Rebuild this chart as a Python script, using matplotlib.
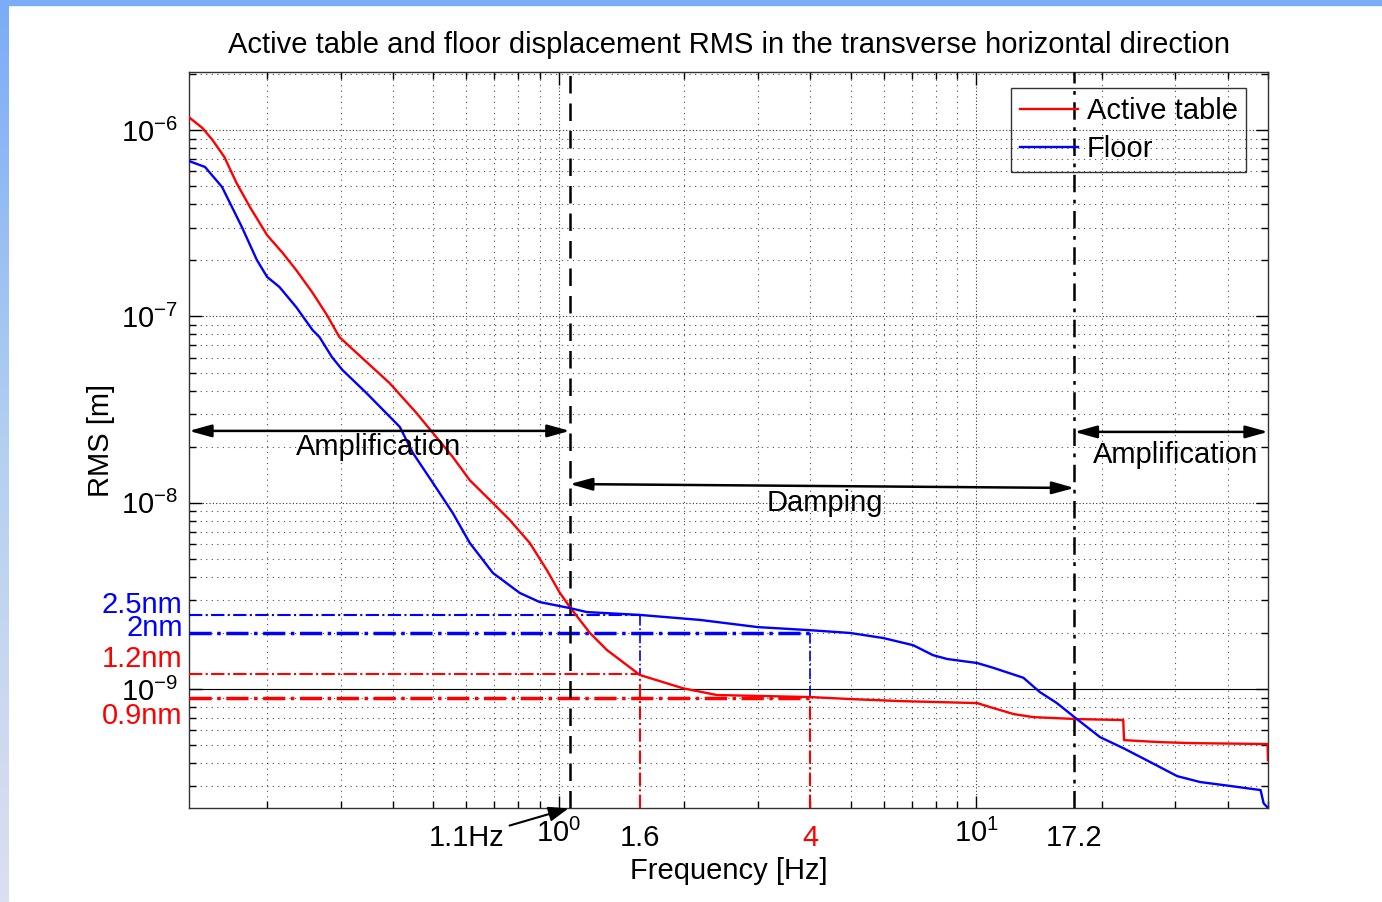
import matplotlib
matplotlib.use("Agg")
import matplotlib.pyplot as plt
import matplotlib.transforms as mtransforms
import numpy as np

plt.rcParams["font.family"] = ["Liberation Sans", "DejaVu Sans"]
plt.rcParams["mathtext.fontset"] = "custom"
plt.rcParams["mathtext.rm"] = "Liberation Sans"
plt.rcParams["mathtext.it"] = "Liberation Sans:italic"

# RMS curves (frequency in Hz, RMS in nm)
table_freq = [0.130, 0.140, 0.148, 0.158, 0.169, 0.182, 0.200, 0.218, 0.235, 0.257,
              0.278, 0.298, 0.328, 0.393, 0.456, 0.499, 0.557, 0.612, 0.695, 0.763,
              0.852, 0.936, 1.006, 1.063, 1.187, 1.304, 1.564, 1.983, 2.393, 4.0,
              4.99, 6.57, 10.05, 10.8, 12.3, 13.7, 17.5, 22.5, 22.6, 27.6,
              32.6, 49.9, 50.0]
table_rms = [1172, 1026, 885, 717, 520, 386, 273, 219, 177, 134,
             102, 77.5, 63.6, 43.9, 30.3, 23.7, 17.6, 13.2, 9.96, 8.07,
             6.08, 4.35, 3.28, 2.75, 2.0, 1.62, 1.19, 1.01, 0.929, 0.906,
             0.884, 0.862, 0.841, 0.80, 0.734, 0.707, 0.690, 0.682, 0.532, 0.519,
             0.513, 0.507, 0.416]

floor_freq = [0.130, 0.142, 0.156, 0.174, 0.189, 0.200, 0.214, 0.235, 0.257, 0.267,
              0.286, 0.303, 0.346, 0.416, 0.447, 0.499, 0.557, 0.612, 0.695, 0.806,
              0.900, 1.063, 1.167, 1.564, 2.18, 3.0, 4.0, 4.99, 5.98, 7.06,
              7.88, 8.52, 10.05, 10.99, 12.97, 14.2, 15.6, 17.3, 19.8, 22.5,
              26.1, 30.3, 34.4, 40.6, 48.0, 48.8, 50.0]
floor_rms = [682, 634, 495, 302, 201, 163, 144, 112, 84.5, 77.5,
             60.5, 51.6, 38.8, 25.5, 18.5, 12.8, 8.81, 6.08, 4.20, 3.28,
             2.93, 2.72, 2.59, 2.50, 2.35, 2.15, 2.07, 2.0, 1.88, 1.72,
             1.52, 1.45, 1.38, 1.30, 1.15, 0.964, 0.841, 0.699, 0.552, 0.482,
             0.406, 0.341, 0.317, 0.302, 0.287, 0.244, 0.23]

# band edges / marked frequencies sit on the 1/16 Hz bins, labels are rounded
band_edges = [1.0625, 17.1875]
band_labels = ["1.1Hz", "17.2"]
mark_freq = [1.5625, 4.0]
mark_labels = ["1.6", "4"]
floor_levels = [2.5, 2.0]    # nm
table_levels = [1.2, 0.9]    # nm
level_labels = ["2.5nm", "2nm", "1.2nm", "0.9nm"]

fig = plt.figure(figsize=(13.82, 9.02), dpi=100)

# slide background border (blue strips on top and left)
strip = fig.add_axes([0, 0, 9 / 1382, 1])
grad = np.linspace(0, 1, 256).reshape(-1, 1)
strip.imshow(grad, aspect="auto", extent=[0, 1, 0, 1],
             cmap=matplotlib.colors.LinearSegmentedColormap.from_list(
                 "bg", ["#dcdff0", "#b4d0f0", "#7aacf8"]), origin="lower")
strip.axis("off")
fig.patches.append(plt.Rectangle((0, 1 - 5 / 902), 1, 5 / 902, transform=fig.transFigure,
                                 color="#7aacf8", zorder=0))

ax = fig.add_axes([189 / 1382, 1 - 808 / 902, (1268 - 189) / 1382, (808 - 72) / 902])
ax.set_xscale("log")
ax.set_yscale("log")
ax.set_xlim(0.13, 50.0)
ax.set_ylim(2.3e-10, 2.05e-6)
xmin, xmax = ax.get_xlim()
ymin = ax.get_ylim()[0]

ax.plot(table_freq, np.array(table_rms) * 1e-9, color="red", lw=1.7, label="Active table", zorder=5)
ax.plot(floor_freq, np.array(floor_rms) * 1e-9, color="blue", lw=1.7, label="Floor", zorder=5)

ax.axhline(1e-9, color="black", lw=0.8, zorder=3)

# guides for the damping band
for f, lvl, lw in zip(mark_freq, floor_levels, [1.5, 2.5]):
    ax.plot([xmin, f], [lvl * 1e-9] * 2, color="blue", ls="-.", lw=lw, zorder=4)
for f, lvl, lw in zip(mark_freq, table_levels, [1.5, 2.5]):
    ax.plot([xmin, f], [lvl * 1e-9] * 2, color="red", ls="-.", lw=lw, zorder=4)
    ax.plot([f, f], [ymin, lvl * 1e-9], color="red", ls="-.", lw=1.5, zorder=4)
for f, top, bot in zip(mark_freq, floor_levels, table_levels):
    ax.plot([f, f], [top * 1e-9, bot * 1e-9], color="blue", ls="-.", lw=1.2, zorder=4)

ax.axvline(band_edges[0], color="black", ls="--", lw=1.8, dashes=(7, 4), zorder=4)
ax.axvline(band_edges[1], color="black", ls="-.", lw=1.8, dashes=(7, 3, 1.5, 3), zorder=4)

fs = 21
arrow = dict(arrowstyle="<|-|>,head_length=0.9,head_width=0.25", color="black", lw=1.8,
             mutation_scale=15, shrinkA=0, shrinkB=0)
ax.annotate("", xy=(band_edges[0], 2.43e-8), xytext=(xmin, 2.43e-8), arrowprops=arrow, zorder=6)
ax.annotate("", xy=(band_edges[1], 1.20e-8), xytext=(band_edges[0], 1.26e-8), arrowprops=arrow, zorder=6)
ax.annotate("", xy=(xmax, 2.4e-8), xytext=(band_edges[1], 2.4e-8), arrowprops=arrow, zorder=6)

ax.text(0.37, 2.0e-8, "Amplification", fontsize=fs, ha="center", va="center", zorder=7)
ax.text(4.35, 1.0e-8, "Damping", fontsize=fs, ha="center", va="center", zorder=7)
ax.text(30.0, 1.8e-8, "Amplification", fontsize=fs, ha="center", va="center", zorder=7)

# tick labels
ax.set_xticks([1, 10])
ax.set_xticklabels([r"$10^{0}$", r"$10^{1}$"], fontsize=fs)
ax.set_yticks([1e-9, 1e-8, 1e-7, 1e-6])
ax.set_yticklabels([r"$10^{-9}$", r"$10^{-8}$", r"$10^{-7}$", r"$10^{-6}$"], fontsize=fs)
ax.tick_params(which="both", direction="in", top=True, right=True, width=1)
ax.tick_params(which="major", length=9, pad=8)
ax.tick_params(which="minor", length=5)
ax.xaxis.set_minor_formatter(matplotlib.ticker.NullFormatter())
ax.yaxis.set_minor_formatter(matplotlib.ticker.NullFormatter())

ax.grid(True, which="major", ls=(0, (1, 2)), color="black", lw=0.8, alpha=0.8)
ax.grid(True, which="minor", ls=(0, (1, 4)), color="black", lw=0.8, alpha=0.7)

trans = mtransforms.blended_transform_factory(ax.transData, ax.transAxes)
ax.text(mark_freq[0], -0.022, mark_labels[0], fontsize=fs, ha="center", va="top", transform=trans)
ax.text(mark_freq[1], -0.022, mark_labels[1], fontsize=fs, ha="center", va="top", color="red",
        transform=trans)
ax.text(band_edges[1], -0.022, band_labels[1], fontsize=fs, ha="center", va="top", transform=trans)
ax.annotate(band_labels[0], xy=(band_edges[0], ymin), xycoords="data",
            xytext=(0.6, -0.022), textcoords=trans, fontsize=fs, ha="center", va="top",
            arrowprops=dict(arrowstyle="-|>,head_length=0.8,head_width=0.3", color="black",
                            lw=1.5, shrinkA=2, shrinkB=1, mutation_scale=15))

# level labels left of the axis
ytrans = mtransforms.blended_transform_factory(ax.transAxes, ax.transData)
level_y = [2.82e-9, 2.13e-9, 1.45e-9, 0.716e-9]
level_col = ["blue", "blue", "red", "red"]
for txt, yv, col in zip(level_labels, level_y, level_col):
    ax.text(-0.006, yv, txt, fontsize=fs, ha="right", va="center", color=col,
            transform=ytrans, clip_on=False)

for s in ax.spines.values():
    s.set_linewidth(1.0)
    s.set_color("#333333")

ax.set_title("Active table and floor displacement RMS in the transverse horizontal direction",
             fontsize=fs, pad=14)
ax.set_xlabel("Frequency [Hz]", fontsize=fs, labelpad=6)
ax.set_ylabel("RMS [m]", fontsize=fs, labelpad=4)

leg = ax.legend(loc="upper right", bbox_to_anchor=(0.98, 0.978), fontsize=fs, frameon=True,
                fancybox=False, handlelength=2.0, handletextpad=0.3, borderpad=0.3,
                labelspacing=0.35, borderaxespad=0)
leg.get_frame().set_facecolor("none")
leg.get_frame().set_edgecolor("black")
leg.get_frame().set_linewidth(1.0)

fig.savefig("out.png", dpi=100)
